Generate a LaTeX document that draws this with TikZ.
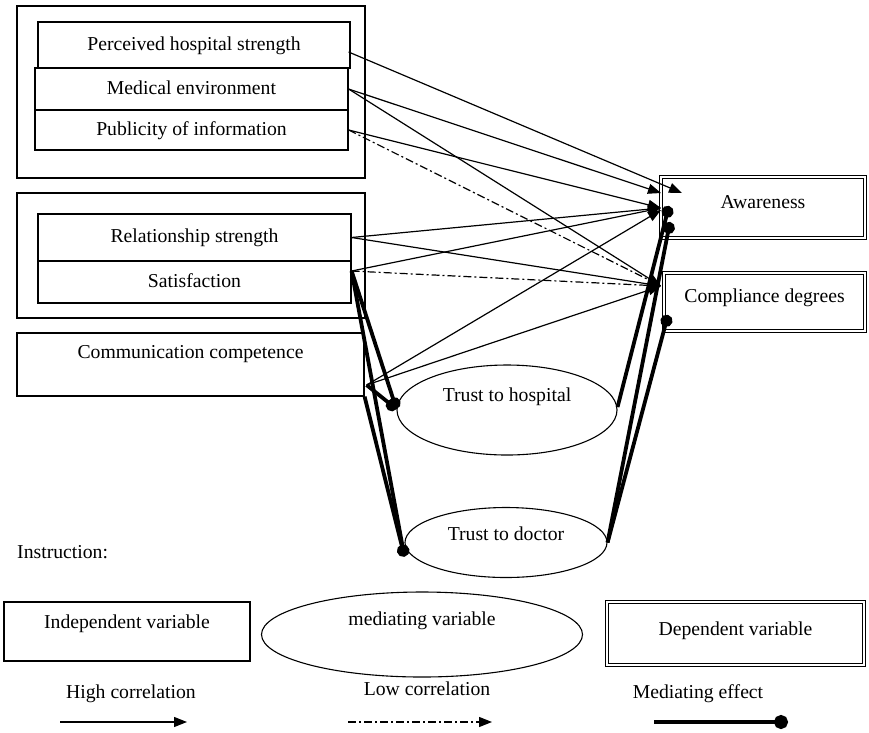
\documentclass[tikz,border=0pt]{standalone}
\usepackage{fontspec}
\setmainfont{Liberation Serif}
\usetikzlibrary{arrows.meta,shapes.geometric}

\begin{document}
\begin{tikzpicture}[x=1pt,y=-1pt,
        font=\fontsize{19.7}{23.6}\selectfont,
        every node/.style={inner sep=0pt,text height=14pt,text depth=4pt},
        frame/.style={draw,line width=1.2pt},
        varbox/.style={draw,line width=1.2pt},
        dbox/.style={draw,double,double distance=2.2pt,line width=1.2pt},
        oval/.style={draw,ellipse,line width=1.1pt},
        high/.style={line width=1.2pt,-{Triangle[length=13pt,width=10pt]}},
        low/.style={high,dash pattern=on 8pt off 3pt on 2pt off 3pt},
        mediate/.style={line width=3.8pt,-{Circle[length=12pt]}}]
        \useasboundingbox (0,0) rectangle (869,732);

        % Groups of independent variables
        \draw[frame] (17,6) rectangle (365,178);
        \draw[frame] (17,193) rectangle (365,318);

        % Independent variables
        \node[varbox,minimum width=312,minimum height=46] (pers) at (194,45) {Perceived hospital strength};
        \node[varbox,minimum width=313,minimum height=42] (med) at (191.5,89) {Medical environment};
        \node[varbox,minimum width=313,minimum height=40] (pub) at (191.5,130) {Publicity of information};
        \node[varbox,minimum width=313,minimum height=47] (rel) at (194.5,237.5) {Relationship strength};
        \node[varbox,minimum width=313,minimum height=42] (sat) at (194.5,282) {Satisfaction};
        \node[varbox,minimum width=347,minimum height=63,label={[yshift=11.5pt]center:Communication competence}] (comm) at (190.5,364.5) {};

        % Mediating variables
        \node[oval,minimum width=220,minimum height=90,label={[yshift=14pt]center:Trust to hospital}] (hosp) at (507,410) {};
        \node[oval,minimum width=202,minimum height=70,label={[yshift=7pt]center:Trust to doctor}] (doc) at (506,542.5) {};

        % Dependent variables
        \node[dbox,minimum width=204,minimum height=61,label={[yshift=4.5pt]center:Awareness}] (aware) at (763,207.5) {};
        \node[dbox,minimum width=201,minimum height=58,label={[yshift=5pt]center:Compliance degrees}] (comp) at (764.5,302) {};

        % Line ends
        \coordinate (persR) at ([xshift=-2pt,yshift=-7pt]pers.east);
        \coordinate (satR) at ([yshift=11pt]sat.east);
        \coordinate (commR) at ([xshift=2pt,yshift=-20.5pt]comm.east);
        \coordinate (hospL) at ([yshift=1pt]hosp.west);
        \coordinate (docL) at ([yshift=-14pt]doc.west);
        \coordinate (awIn) at (682,193);
        \coordinate (awTop) at (661,193);
        \coordinate (awMid) at (661,208);
        \coordinate (cpIn) at (661,286);
        \coordinate (awDot1) at (669,206);
        \coordinate (awDot2) at (670,222);
        \coordinate (cpDot) at (668,315);

        % High correlation
        \draw[high] (persR) -- (awIn);
        \draw[high] (med.east) -- (awTop);
        \draw[high] (med.east) -- (cpIn);
        \draw[high] (pub.east) -- (awMid);
        \draw[high] (rel.east) -- (awMid);
        \draw[high] (rel.east) -- (cpIn);
        \draw[high] (satR) -- (awMid);
        \draw[high] (commR) -- ([yshift=-2pt]awMid);
        \draw[high] (commR) -- (cpIn);

        % Low correlation
        \draw[low] (pub.east) -- (cpIn);
        \draw[low] (satR) -- (cpIn);

        % Mediating effect
        \draw[mediate] (satR) -- (hospL);
        \draw[mediate] (satR) -- (docL);
        \draw[mediate] (commR) -- (hospL);
        \draw[mediate] (comm.south east) -- (docL);
        \draw[mediate] ([yshift=3pt]hosp.east) -- (awDot1);
        \draw[mediate] (doc.east) -- (awDot2);
        \draw[mediate] (doc.east) -- (cpDot);

        % Legend
        \node[anchor=west] (instr) at (17,553) {Instruction:};
        \node[varbox,minimum width=246,minimum height=59,label={[yshift=8.5pt]center:Independent variable}] (indep) at (127,631.5) {};
        \node[oval,minimum width=321,minimum height=85,label={[yshift=14pt]center:mediating variable}] (medvar) at (422,634.5) {};
        \node[dbox,minimum width=257,minimum height=63,label={[yshift=3pt]center:Dependent variable}] (depvar) at (735.5,633.5) {};
        \node (hitext) at (131,693) {High correlation};
        \node (lotext) at (427,690) {Low correlation};
        \node (metext) at (698,693) {Mediating effect};
        \coordinate (hiA) at (60,722);
        \coordinate (hiB) at (187,722);
        \coordinate (loA) at (348,722);
        \coordinate (loB) at (492,722);
        \coordinate (meA) at (654,722);
        \coordinate (meB) at (788,722);
        \draw[high] (hiA) -- (hiB);
        \draw[low] (loA) -- (loB);
        \draw[mediate,-{Circle[length=14pt]}] (meA) -- (meB);

\end{tikzpicture}
\end{document}
